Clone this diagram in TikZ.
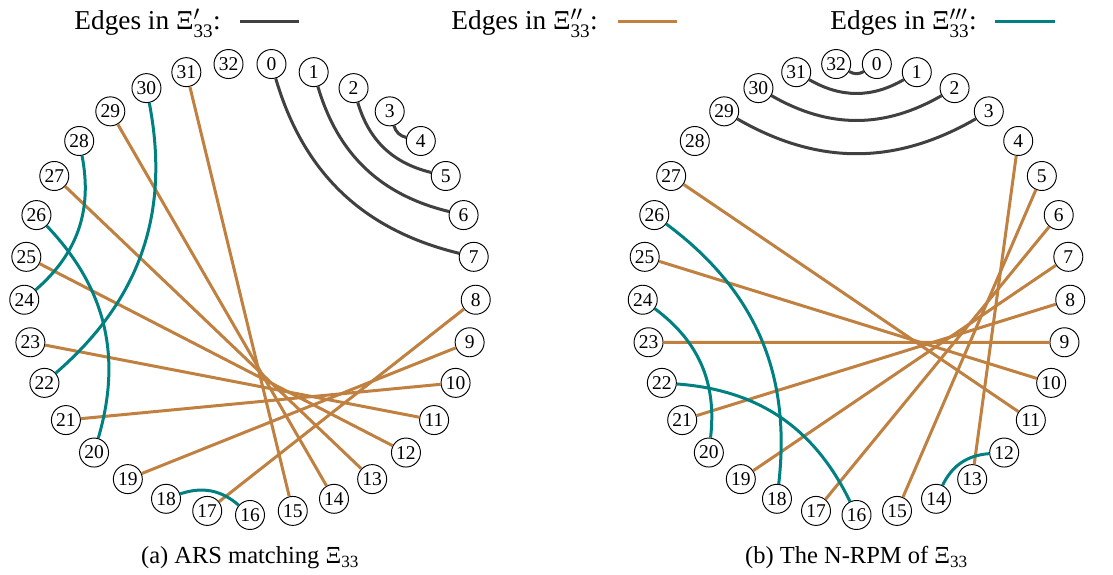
\documentclass[tikz,border=0pt]{standalone}
\usepackage{amsmath}
\usepackage{fontspec}
\setmainfont{Liberation Serif}
\usetikzlibrary{positioning}
\tikzset{%
  % Specifications for style of nodes and edges:
      vertex/.style = {circle, draw=black, line width=0.95pt, fill=white,
                       minimum size=29pt, inner sep=0pt,
                       font=\fontsize{19.5}{20}\selectfont},
     xiPrime/.style = {draw=darkgray, line width=3pt},
    xiDouble/.style = {draw=brown, line width=3pt},
    xiTriple/.style = {draw=teal, line width=3pt},
  legendText/.style = {font=\fontsize{27.3}{29}\selectfont, inner sep=0pt},
  subCaption/.style = {font=\fontsize{24.5}{28}\selectfont, inner sep=0pt},
}

\begin{document}
\begin{tikzpicture}[x=1pt, y=1pt]
  \useasboundingbox (0,0) rectangle (1113,575);

  % Legend
  \node (legTextA) [legendText, anchor=base east] at (221,545) {Edges in Ξ$'_{\text{33}}$:};
  \node (legTextB) [legendText, anchor=base east] at (598,545) {Edges in Ξ$''_{\text{33}}$:};
  \node (legTextC) [legendText, anchor=base east] at (977,545) {Edges in Ξ$'''_{\text{33}}$:};
  \coordinate (legA1) at (240,553);  \coordinate (legA2) at (299,553);
  \coordinate (legB1) at (618,553);  \coordinate (legB2) at (677,553);
  \coordinate (legC1) at (995,553);  \coordinate (legC2) at (1055,553);
  \draw[xiPrime]  (legA1) -- (legA2);
  \draw[xiDouble] (legB1) -- (legB2);
  \draw[xiTriple] (legC1) -- (legC2);

  % (a) ARS matching
  \begin{scope}[shift={(250,286)}]
    \foreach \i in {0,...,32}
      \node (a\i) [vertex] at ({90-360/33*(\i+0.5)}:226) {\i};
    \foreach \u/\v in {0/7, 1/6, 2/5, 3/4}
      \draw[xiPrime] (a\u) to[bend right] (a\v);
    \foreach \u/\v in {31/15, 29/14, 27/13, 25/12, 23/11, 21/10, 19/9, 17/8}
      \draw[xiDouble] (a\u) -- (a\v);
    \foreach \u/\v in {22/30, 24/28, 20/26, 16/18}
      \draw[xiTriple] (a\u) to[bend right] (a\v);
  \end{scope}
  \node (capA) [subCaption, anchor=base] at (250,11) {(a) ARS matching Ξ\textsubscript{33}};

  % (b) the N-RPM
  \begin{scope}[shift={(856.5,286)}]
    \foreach \i in {0,...,32}
      \node (b\i) [vertex] at ({90-360/33*(\i+0.5)}:214 and 226) {\i};
    \foreach \u/\v in {32/0, 31/1, 30/2, 29/3}
      \draw[xiPrime] (b\u) to[bend right] (b\v);
    \foreach \u/\v in {27/11, 25/10, 23/9, 21/8, 19/7, 17/6, 15/5, 13/4}
      \draw[xiDouble] (b\u) -- (b\v);
    \foreach \u/\v in {18/26, 20/24, 16/22, 12/14}
      \draw[xiTriple] (b\u) to[bend right] (b\v);
  \end{scope}
  \node (capB) [subCaption, anchor=base] at (856.5,11) {(b) The N-RPM of Ξ\textsubscript{33}};
\end{tikzpicture}
\end{document}
